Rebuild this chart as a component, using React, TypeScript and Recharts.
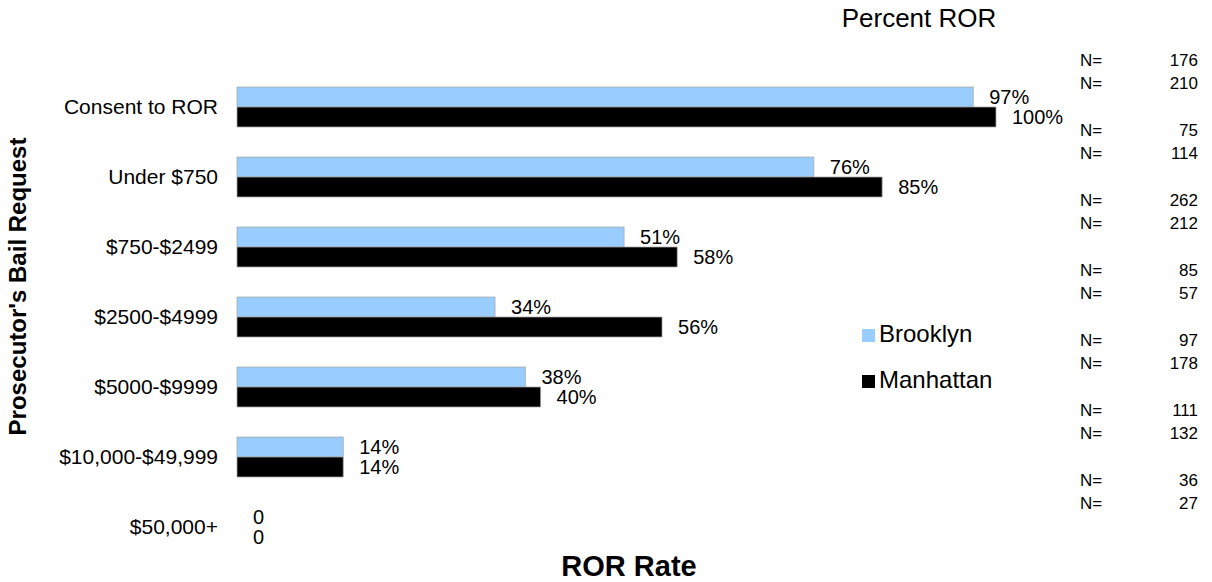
import React from 'react';
import { BarChart, Bar, XAxis, YAxis, Legend, LabelList, Label, Rectangle } from 'recharts';

if (typeof document !== 'undefined') document.body.style.margin = '0';

const categories = [
  'Consent to ROR',
  'Under $750',
  '$750-$2499',
  '$2500-$4999',
  '$5000-$9999',
  '$10,000-$49,999',
  '$50,000+',
];
const brooklyn = [97, 76, 51, 34, 38, 14, 0];
const manhattan = [100, 85, 58, 56, 40, 14, 0];
const brooklynN = [176, 75, 262, 85, 97, 111, 36];
const manhattanN = [210, 114, 212, 57, 178, 132, 27];

const data = categories.map((category, i) => ({
  category,
  brooklyn: brooklyn[i],
  manhattan: manhattan[i],
}));

const FONT = '"Liberation Sans", Arial, sans-serif';
const WIDTH = 1212;
const HEIGHT = 582;
const MARGIN = { top: 72, right: 0, bottom: 0, left: 0 };
const X_AXIS_H = 20;
const BAND = (HEIGHT - MARGIN.top - X_AXIS_H) / categories.length;

const pct = (v: any) => (Number(v) === 0 ? '0' : `${v}%`);

// zero bars still need a rectangle entry so their "0" label gets drawn; draw nothing for them
const zeroSize = (value: any) => (Number(value) === 0 ? 0.01 : 0);
const BarShape = (props: any) => {
  if (!props.value || props.width < 0.5) return <g />;
  return <Rectangle {...props} />;
};

// N= counts sit on the right, one pair per category, centred on the top edge of its band
const NTick = (props: any) => {
  const { x, y, index } = props;
  const top = y - BAND / 2;
  const rows = [
    { n: brooklynN[index], dy: -12.5 },
    { n: manhattanN[index], dy: 11 },
  ];
  return (
    <g>
      {rows.map((r, i) => (
        <g key={i}>
          <text x={x + 84} y={top + r.dy} dy="0.355em" fontSize={17} fontFamily={FONT} fill="#000">
            N=
          </text>
          <text x={x + 202} y={top + r.dy} dy="0.355em" textAnchor="end" fontSize={17} fontFamily={FONT} fill="#000">
            {r.n}
          </text>
        </g>
      ))}
    </g>
  );
};

const YTitle = (props: any) => {
  const { viewBox } = props;
  const cx = viewBox.x + 17.5;
  const cy = viewBox.y + viewBox.height / 2 - 30.5;
  return (
    <text
      x={cx}
      y={cy}
      dy="0.355em"
      textAnchor="middle"
      transform={`rotate(-90, ${cx}, ${cy})`}
      fontSize={24}
      fontWeight="bold"
      fontFamily={FONT}
      fill="#000"
    >
      Prosecutor's Bail Request
    </text>
  );
};

const XTitle = (props: any) => {
  const { viewBox } = props;
  const cx = viewBox.x + viewBox.width / 2 + 12.5;
  const cy = viewBox.y + 4;
  return (
    <text x={cx} y={cy} dy="0.355em" textAnchor="middle" fontSize={29} fontWeight="bold" fontFamily={FONT} fill="#000">
      ROR Rate
    </text>
  );
};

const App = () => {
  return (
    <div style={{ position: 'relative', width: WIDTH, height: HEIGHT, background: '#fff', fontFamily: FONT }}>
      <div
        style={{
          position: 'absolute',
          left: 819,
          top: 5,
          width: 200,
          textAlign: 'center',
          fontSize: 26,
          lineHeight: '26px',
          color: '#000',
          zIndex: 1,
        }}
      >
        Percent ROR
      </div>
      <BarChart
        width={WIDTH}
        height={HEIGHT}
        data={data}
        layout="vertical"
        margin={MARGIN}
        barSize={20}
        barGap={0}
      >
        <XAxis
          type="number"
          domain={[0, 100]}
          height={X_AXIS_H}
          axisLine={false}
          tickLine={false}
          tick={false}
        >
          <Label content={<XTitle />} />
        </XAxis>
        <YAxis
          type="category"
          dataKey="category"
          width={237}
          axisLine={false}
          tickLine={false}
          tickSize={0}
          tickMargin={19}
          tick={{ fontSize: 21, fontFamily: FONT, fill: '#000' }}
          interval={0}
        >
          <Label content={<YTitle />} />
        </YAxis>
        <YAxis
          yAxisId="right"
          orientation="right"
          type="category"
          dataKey="category"
          width={216}
          axisLine={false}
          tickLine={false}
          tickSize={0}
          tickMargin={0}
          interval={0}
          tick={<NTick />}
        />
        <Legend
          layout="vertical"
          align="center"
          verticalAlign="middle"
          iconType="square"
          iconSize={13}
          wrapperStyle={{ left: 862, top: 311, width: 'auto', fontSize: 24, lineHeight: '46px', fontFamily: FONT }}
          formatter={(value: any) => <span style={{ color: '#000' }}>{value}</span>}
        />
        <Bar
          dataKey="brooklyn"
          name="Brooklyn"
          fill="#99CCFF"
          stroke="#a6a6a6"
          strokeWidth={0.75}
          minPointSize={zeroSize}
          shape={<BarShape />}
          isAnimationActive={false}
        >
          <LabelList
            dataKey="brooklyn"
            position="right"
            offset={16}
            formatter={pct}
            style={{ fontSize: 20, fontFamily: FONT, fill: '#000' }}
          />
        </Bar>
        <Bar
          dataKey="manhattan"
          name="Manhattan"
          fill="#000000"
          stroke="#a6a6a6"
          strokeWidth={0.75}
          minPointSize={zeroSize}
          shape={<BarShape />}
          isAnimationActive={false}
        >
          <LabelList
            dataKey="manhattan"
            position="right"
            offset={16}
            formatter={pct}
            style={{ fontSize: 20, fontFamily: FONT, fill: '#000' }}
          />
        </Bar>
      </BarChart>
    </div>
  );
};

export default App;
